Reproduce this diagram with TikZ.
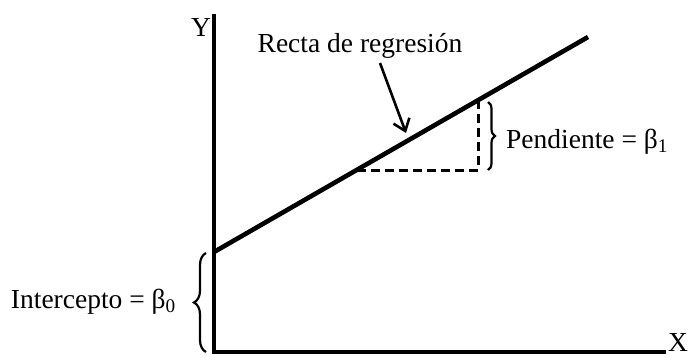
\documentclass[tikz,border=0pt]{standalone}
\usepackage{fontspec}
\setmainfont{Liberation Serif}
\usetikzlibrary{decorations.pathreplacing,arrows.meta}
\begin{document}
\begin{tikzpicture}[x=1pt,y=-1pt,
  lbl/.style={font=\fontsize{27.5}{32}\selectfont, inner sep=0pt},
  axisline/.style={line width=3.2pt},
  regline/.style={line width=4.6pt},
  dashline/.style={line width=3pt, dash pattern=on 9pt off 5pt},
  bracestyle/.style={line width=2.2pt, decorate, decoration={brace, amplitude=7pt}},
  pointer/.style={line width=2.6pt, -{Straight Barb[length=11pt,width=17pt,line width=2.6pt]}}]
\useasboundingbox (0,0) rectangle (694,357);
\coordinate (O) at (214,352);
\coordinate (Ytop) at (214,14);
\coordinate (Xend) at (666,352);
\draw[axisline] (Ytop) -- (O) -- (Xend);
\node[lbl] (ylab) at (201,27) {Y};
\node[lbl, anchor=base west] (xlab) at (668,351) {X};
\coordinate (A) at (214,252);
\coordinate (B) at (588,37);
\draw[regline] (A) -- (B);
\coordinate (P1) at (357,170);
\coordinate (P2) at (478,170);
\coordinate (P3) at (478,101);
\draw[dashline] (P1) -- (P2) -- (P3);
\node[lbl] (recta) at (360,46) {Recta de regresión};
\coordinate (tip) at (406,133);
\draw[pointer] (380,63) -- (tip);
\draw[bracestyle] (488,102) -- (488,170);
\node[lbl, anchor=west] (pend) at (506,142) {Pendiente = β\textsubscript{1}};
\draw[bracestyle, decoration={brace, amplitude=12pt}] (206,352) -- (206,253);
\node[lbl, anchor=east] (inter) at (176,302) {Intercepto = β\textsubscript{0}};
\end{tikzpicture}
\end{document}
